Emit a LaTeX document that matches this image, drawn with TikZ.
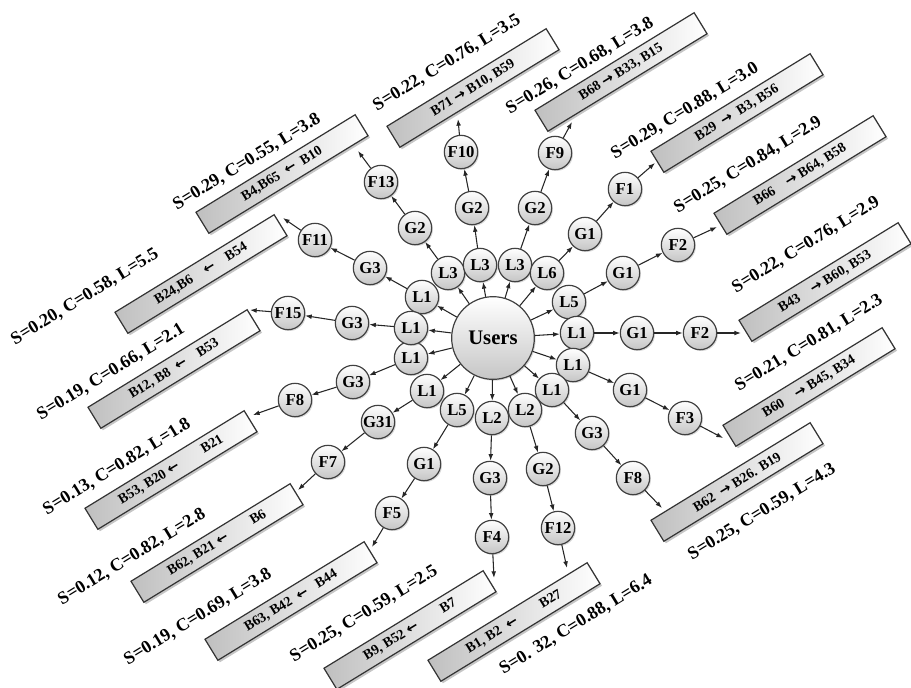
\documentclass[tikz,border=0pt]{standalone}
\usepackage{fontspec}
\setmainfont{Liberation Serif}
\newfontfamily\arrfont{DejaVu Sans}
\newcommand{\ra}{{\arrfont\bfseries →}}
\newcommand{\la}{{\arrfont\bfseries ←}}
\usetikzlibrary{arrows.meta,shadows}
\begin{document}
\begin{tikzpicture}[x=0.75pt,y=-0.75pt,
  nd/.style={circle, draw=black!75, line width=0.9pt, top color=white, bottom color=gray!45,
    minimum size=25pt, inner sep=0pt, font=\bfseries\fontsize{12.5}{12.5}\selectfont,
    drop shadow={shadow xshift=1pt, shadow yshift=-1pt, opacity=0.3}},
  usr/.style={nd, minimum size=62pt, font=\bfseries\fontsize{15.5}{15.5}\selectfont},
  bx/.style={rectangle, draw=black!80, line width=0.9pt, rotate=31.5, minimum width=140pt,
    minimum height=18.5pt, inner sep=0pt, left color=gray!50, right color=white,
    font=\bfseries\fontsize{10.5}{10.5}\selectfont,
    drop shadow={shadow xshift=1.5pt, shadow yshift=-1.5pt, opacity=0.45}},
  lb/.style={rotate=31.5, inner sep=0pt, font=\bfseries\fontsize{13.5}{13.5}\selectfont},
  ar/.style={-{Latex[length=5pt,width=3.6pt]}, line width=0.8pt, draw=black!85}
]
\useasboundingbox (0,0) rectangle (911,687);

\node[usr] (u) at (493,338) {Users};

% chain 1
\node[nd] (l1) at (422,297) {L1};
\node[nd] (g1) at (370,268) {G3};
\node[nd] (f1) at (315,240) {F11};
\coordinate (t1) at (283,218);
\node[bx] (b1) at (201,274) {B24,B6\quad \la\quad B54};
\node[lb] (s1) at (85,297) {S=0.20, C=0.58, L=5.5};
% chain 2
\node[nd] (l2) at (448,273) {L3};
\node[nd] (g2) at (415,228) {G2};
\node[nd] (f2) at (381,182) {F13};
\coordinate (t2) at (358,151);
\node[bx] (b2) at (282,174) {B4,B65\enspace \la\enspace B10};
\node[lb] (s2) at (247,162) {S=0.29, C=0.55, L=3.8};
% chain 3
\node[nd] (l3) at (480,265) {L3};
\node[nd] (g3) at (472,208) {G2};
\node[nd] (f3) at (461,152) {F10};
\coordinate (t3) at (458,119);
\node[bx] (b3) at (473,88) {B71 \ra\ B10, B59};
\node[lb] (s3) at (447,63) {S=0.22, C=0.76, L=3.5};
% chain 4
\node[nd] (l4) at (515,265) {L3};
\node[nd] (g4) at (535,208) {G2};
\node[nd] (f4) at (555,153) {F9};
\coordinate (t4) at (572,122);
\node[bx] (b4) at (621,72) {B68 \ra\ B33, B15};
\node[lb] (s4) at (580,66) {S=0.26, C=0.68, L=3.8};
% chain 5
\node[nd] (l5) at (547,273) {L6};
\node[nd] (g5) at (585,234) {G1};
\node[nd] (f5) at (625,189) {F1};
\coordinate (t5) at (655,163);
\node[bx] (b5) at (737,113) {B29\enspace \ra\enspace B3, B56};
\node[lb] (s5) at (685,111) {S=0.29, C=0.88, L=3.0};
% chain 6
\node[nd] (l6) at (569,302) {L5};
\node[nd] (g6) at (623,273) {G1};
\node[nd] (f6) at (678,245) {F2};
\coordinate (t6) at (717,227);
\node[bx] (b6) at (800,175) {B66\quad \ra\ B64, B58};
\node[lb] (s6) at (748,165) {S=0.25, C=0.84, L=2.9};
% chain 7
\node[nd] (l7) at (577,333) {L1};
\node[nd] (g7) at (637,333) {G1};
\node[nd] (f7) at (700,333) {F2};
\coordinate (t7) at (741,333);
\node[bx] (b7) at (825,282) {B43\quad \ra\ B60, B53};
\node[lb] (s7) at (806,245) {S=0.22, C=0.76, L=2.9};
% chain 8
\node[nd] (l8) at (573,365) {L1};
\node[nd] (g8) at (630,390) {G1};
\node[nd] (f8) at (685,418) {F3};
\coordinate (t8) at (723,438);
\node[bx] (b8) at (809,387) {B60\quad \ra\ B45, B34};
\node[lb] (s8) at (809,343) {S=0.21, C=0.81, L=2.3};
% chain 9
\node[nd] (l9) at (552,390) {L1};
\node[nd] (g9) at (592,433) {G3};
\node[nd] (f9) at (633,478) {F8};
\coordinate (t9) at (662,508);
\node[bx] (b9) at (737,482) {B62\enspace \ra\ B26. B19};
\node[lb] (s9) at (762,512) {S=0.25, C=0.59, L=4.3};
% chain 10
\node[nd] (l10) at (525,410) {L2};
\node[nd] (g10) at (543,469) {G2};
\node[nd] (f10) at (558,528) {F12};
\coordinate (t10) at (567,568);
\node[bx] (b10) at (514,622) {B1, B2\enspace \la\qquad B27};
\node[lb] (s10) at (576,625) {S=0. 32, C=0.88, L=6.4};
% chain 11
\node[nd] (l11) at (492,418) {L2};
\node[nd] (g11) at (490,478) {G3};
\node[nd] (f11) at (492,537) {F4};
\coordinate (t11) at (494,578);
\node[bx] (b11) at (410,630) {B9, B52 \la\qquad B7};
\node[lb] (s11) at (364,614) {S=0.25, C=0.59, L=2.5};
% chain 12
\node[nd] (l12) at (457,410) {L5};
\node[nd] (g12) at (424,464) {G1};
\node[nd] (f12) at (392,513) {F5};
\coordinate (t12) at (372,547);
\node[bx] (b12) at (291,601) {B63, B42\enspace \la\enspace\ B44};
\node[lb] (s12) at (198,617) {S=0.19, C=0.69, L=3.8};
% chain 13
\node[nd] (l13) at (427,391) {L1};
\node[nd] (g13) at (378,422) {G31};
\node[nd] (f13) at (328,462) {F7};
\coordinate (t13) at (298,490);
\node[bx] (b13) at (217,543) {B62, B21 \la\qquad B6};
\node[lb] (s13) at (132,557) {S=0.12, C=0.82, L=2.8};
% chain 14
\node[nd] (l14) at (411,358) {L1};
\node[nd] (g14) at (353,382) {G3};
\node[nd] (f14) at (295,400) {F8};
\coordinate (t14) at (253,415);
\node[bx] (b14) at (171,470) {B53, B20 \la\qquad B21};
\node[lb] (s14) at (117,467) {S=0.13, C=0.82, L=1.8};
% chain 15
\node[nd] (l15) at (411,328) {L1};
\node[nd] (g15) at (352,323) {G3};
\node[nd] (f15) at (288,313) {F15};
\coordinate (t15) at (250,310);
\node[bx] (b15) at (174,369) {B12, B8\enspace \la\quad B53};
\node[lb] (s15) at (111,372) {S=0.19, C=0.66, L=2.1};

\foreach \i in {1,...,15}{
  \draw[ar] (u) -- (l\i);
  \draw[ar] (l\i) -- (g\i);
  \draw[ar] (g\i) -- (f\i);
  \draw[ar] (f\i) -- (t\i);
}
\end{tikzpicture}
\end{document}
